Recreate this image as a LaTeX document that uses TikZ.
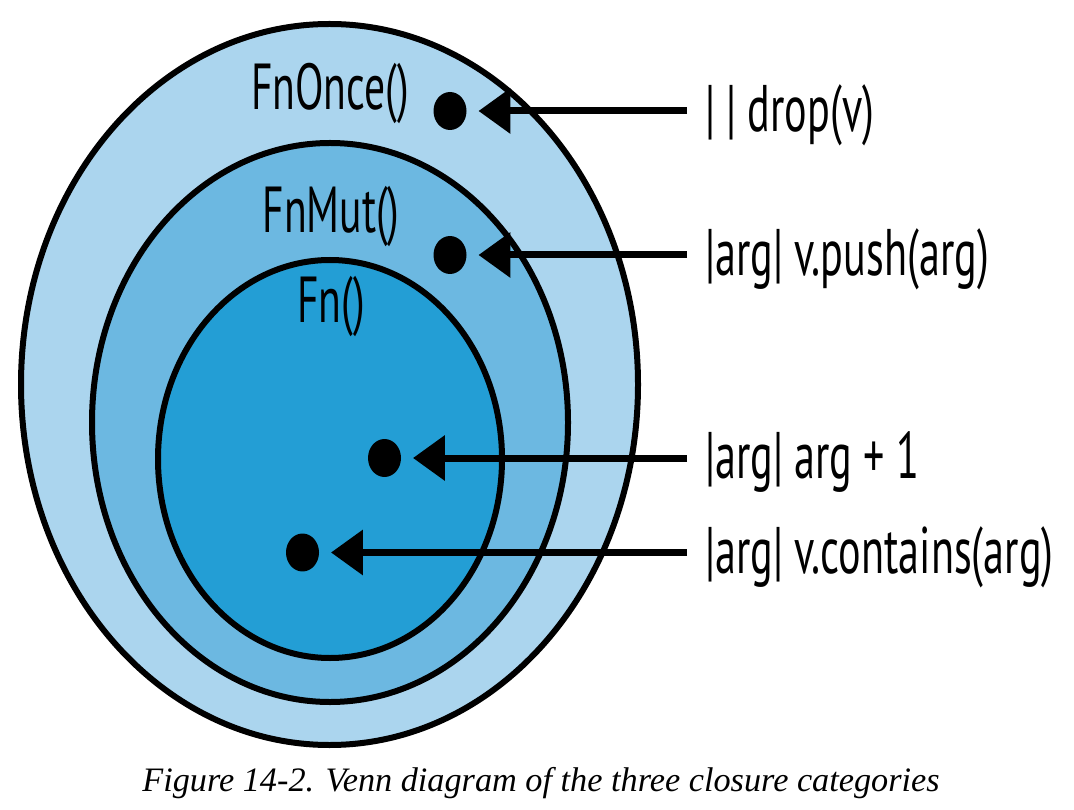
\documentclass[tikz,border=0pt]{standalone}
\usepackage{fontspec}
\setmainfont{Liberation Serif}
\newfontfamily\setfont[FakeStretch=0.64]{PT Sans}
\usetikzlibrary{arrows.meta,shapes.geometric}

\definecolor{onceblue}{RGB}{171,213,238}
\definecolor{mutblue}{RGB}{108,184,225}
\definecolor{fnblue}{RGB}{35,158,213}

\begin{document}
\begin{tikzpicture}[x=0.02cm, y=-0.02cm,
    venn/.style={draw=black, line width=0.12cm},
    setname/.style={font=\setfont\fontsize{37}{40}\selectfont, inner sep=0pt, anchor=base},
    dot/.style={ellipse, fill=black, inner sep=0pt, minimum width=0.66cm, minimum height=0.76cm, outer sep=0.24cm},
    closure/.style={font=\setfont\fontsize{37.5}{40}\selectfont, anchor=west, inner xsep=0.36cm, inner ysep=0pt,
    text height=1.0cm, text depth=0.16cm},
    pointer/.style={line width=0.14cm, -{Triangle[length=0.64cm, width=0.88cm]}},]
    \useasboundingbox (0,0) rectangle (1074,810);

    % the three nested sets
    \draw [venn, fill=onceblue] (329.5,384.5) ellipse [x radius=308.5, y radius=360.5];
    \draw [venn, fill=mutblue] (330,422.5) ellipse [x radius=238, y radius=279.5];
    \draw [venn, fill=fnblue] (330,459) ellipse [x radius=172, y radius=199];

    \node (fnonce) [setname] at (330,110) {FnOnce()};
    \node (fnmut) [setname] at (331,233) {FnMut()};
    \node (fn) [setname] at (331,323) {Fn()};

    % one closure in each set
    \node (dropdot) [dot] at (450,111) {};
    \node (pushdot) [dot] at (450,255) {};
    \node (adddot) [dot] at (384.5,458) {};
    \node (containsdot) [dot] at (302.5,552.5) {};

    \node (drop) [closure] at (687,111) {| | drop(v)};
    \node (push) [closure] at (687,255) {|arg| v.push(arg)};
    \node (add) [closure] at (687,458) {|arg| arg + 1};
    \node (contains) [closure] at (687,552.5) {|arg| v.contains(arg)};

    \draw [pointer] (drop.west) -- (dropdot);
    \draw [pointer] (push.west) -- (pushdot);
    \draw [pointer] (add.west) -- (adddot);
    \draw [pointer] (contains.west) -- (containsdot);

    \node (caption) [anchor=base, font=\fontsize{19.5}{22}\selectfont\itshape] at (541,791)
    {Figure 14-2. Venn diagram of the three closure categories};
\end{tikzpicture}
\end{document}
